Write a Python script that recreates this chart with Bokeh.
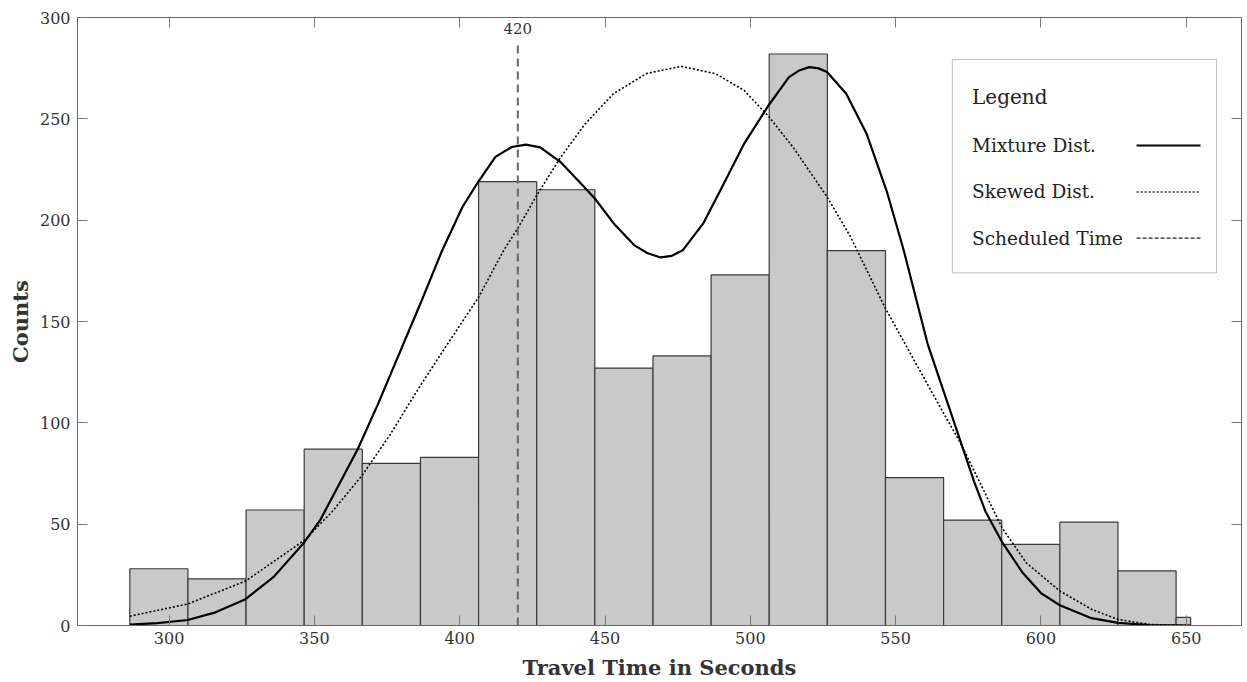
from bokeh.plotting import figure
from bokeh.models import (Range1d, LinearAxis, FixedTicker, BoxAnnotation, Label)
from bokeh.embed import file_html
from bokeh.resources import INLINE

# ---- data ----
bin_left = [286.5, 306.5, 326.5, 346.5, 366.5, 386.5, 406.5, 426.5, 446.5, 466.5,
            486.5, 506.5, 526.5, 546.5, 566.5, 586.5, 606.5, 626.5, 646.5]
bin_right = [306.5, 326.5, 346.5, 366.5, 386.5, 406.5, 426.5, 446.5, 466.5, 486.5,
             506.5, 526.5, 546.5, 566.5, 586.5, 606.5, 626.5, 646.5, 651.5]
counts = [28, 23, 57, 87, 80, 83, 219, 215, 127, 133, 173, 282, 185, 73, 52, 40, 51, 27, 4]

mix_x = [286.5, 296.0, 306.4, 316.0, 326.3, 336.0, 346.5, 352.0, 359.4, 364.9, 371.7, 380.0,
         387.0, 394.0, 401.0, 406.5, 412.3, 417.9, 422.8, 427.7, 434.7, 441.7, 446.5,
         453.0, 460.0, 464.5, 469.1, 473.0, 476.8, 483.8, 490.9, 497.9, 506.3, 513.3,
         517.0, 520.3, 523.5, 526.4, 533.0, 540.0, 547.0, 552.8, 561.0, 566.4, 572.3,
         577.0, 581.0, 586.7, 593.7, 600.0, 606.5, 617.4, 626.5, 637.6, 651.5]
mix_y = [0.4, 1.2, 2.7, 6.5, 13, 24, 41, 52, 72, 87, 108.6, 136.8,
         160.6, 185.2, 206.6, 219.2, 231.2, 236.1, 237.3, 235.9, 228.7, 218.1, 210.7,
         198.4, 187.7, 183.8, 181.6, 182.4, 185.2, 198.4, 218.1, 237.8, 256.7, 270.6,
         274.0, 275.5, 274.9, 273.1, 262.4, 242.7, 214, 185, 139, 116, 91,
         71, 56, 41, 26, 16, 10, 3.6, 1.3, 0.2, 0]

skew_x = [286.5, 306.4, 326.3, 346.5, 356.0, 366.4, 376.0, 386.3, 395.4, 406.5, 415.1,
          420.0, 426.4, 434.7, 443.1, 452.9, 464.2, 476.1, 488.0, 497.9, 506.4, 514.7,
          526.4, 534.4, 546.3, 554.0, 566.4, 572.3, 586.7, 594.9, 606.5, 617.4, 626.5,
          637.6, 651.5]
skew_y = [4.6, 10.6, 21.9, 42, 56, 74, 94, 118, 138, 162, 185,
          196, 212, 231, 247.4, 262.4, 272.3, 275.9, 272.3, 264, 251, 236,
          211.5, 192, 157, 137, 105, 90, 48, 31, 17, 8, 3,
          0.5, 0]

scheduled = 420
x_ticks = [300, 350, 400, 450, 500, 550, 600, 650]
y_ticks = [0, 50, 100, 150, 200, 250, 300]
legend_labels = ["Mixture Dist.", "Skewed Dist.", "Scheduled Time"]

FONT = "DejaVu Serif"
TXT = "#333333"

p = figure(width=1247, height=682, x_range=Range1d(268.5, 669), y_range=Range1d(0, 300),
           output_backend="svg", toolbar_location=None,
           min_border_left=77, min_border_right=6, min_border_top=17, min_border_bottom=56)
p.xgrid.visible = False
p.ygrid.visible = False
p.outline_line_color = "#555555"
p.outline_line_width = 1
p.background_fill_color = "white"
p.border_fill_color = "white"

# bars
p.quad(left=bin_left, right=bin_right, bottom=0, top=counts,
       fill_color="#c9c9c9", line_color="#3a3a3a", line_width=1.2)

# curves
p.line(skew_x, skew_y, line_color="black", line_width=1.6, line_dash="2 2",
       line_join="round")
p.line(mix_x, mix_y, line_color="black", line_width=2.2, line_join="round")

# scheduled time
p.segment(x0=[scheduled], y0=[0], x1=[scheduled], y1=[287],
          line_color="#666666", line_width=2, line_dash="8 5")
p.add_layout(Label(x=scheduled, y=294.8, text=str(scheduled), text_align="center",
                   text_baseline="middle", text_font=FONT, text_font_size="15px",
                   text_color=TXT))

def style_axis(ax, labels=True):
    ax.major_tick_in = 10
    ax.major_tick_out = 0
    ax.minor_tick_line_color = None
    ax.major_tick_line_color = "#777777"
    ax.axis_line_color = "#666666"
    if labels:
        ax.major_label_text_font = FONT
        ax.major_label_text_font_size = "16px"
        ax.major_label_text_color = TXT
    else:
        ax.major_label_text_font_size = "1px"
        ax.major_label_text_color = None
        ax.major_label_standoff = 0

xa = p.xaxis[0]
xa.ticker = FixedTicker(ticks=x_ticks)
style_axis(xa)
xa.major_label_standoff = 6
xa.axis_label = "Travel Time in Seconds"
xa.axis_label_text_font = FONT
xa.axis_label_text_font_size = "21px"
xa.axis_label_text_font_style = "bold"
xa.axis_label_text_color = TXT
xa.axis_label_standoff = 8

ya = p.yaxis[0]
ya.ticker = FixedTicker(ticks=y_ticks)
style_axis(ya)
ya.major_label_standoff = 7
ya.axis_label = "Counts"
ya.axis_label_text_font = FONT
ya.axis_label_text_font_size = "21px"
ya.axis_label_text_font_style = "bold"
ya.axis_label_text_color = TXT
ya.axis_label_standoff = 4

top = LinearAxis(ticker=FixedTicker(ticks=x_ticks))
style_axis(top, labels=False)
p.add_layout(top, "above")
right = LinearAxis(ticker=FixedTicker(ticks=y_ticks))
style_axis(right, labels=False)
p.add_layout(right, "right")

# legend (drawn by hand: labels left, samples right)
p.add_layout(BoxAnnotation(left=569.5, right=660.4, bottom=174.0, top=279.3,
                           fill_color="white", fill_alpha=1.0,
                           line_color="#333333", line_width=1, level="annotation"))
p.add_layout(Label(x=576.3, y=260.7, text="Legend", text_font=FONT, text_font_size="20px",
                   text_baseline="middle", text_color="#222222", level="overlay"))
ly = [236.9, 213.9, 191.1]
for lab, yy in zip(legend_labels, ly):
    p.add_layout(Label(x=576.3, y=yy, text=lab, text_font=FONT, text_font_size="18.5px",
                       text_baseline="middle", text_color="#222222", level="overlay"))
p.line([632.9, 654.9], [ly[0], ly[0]], line_color="black", line_width=2, level="overlay")
p.line([632.9, 654.9], [ly[1], ly[1]], line_color="#333333", line_width=1.4,
       line_dash="2 2", level="overlay")
p.line([632.9, 654.9], [ly[2], ly[2]], line_color="#222222", line_width=1.2,
       line_dash="4 2", level="overlay")

open("out.html", "w").write(file_html(p, INLINE))
